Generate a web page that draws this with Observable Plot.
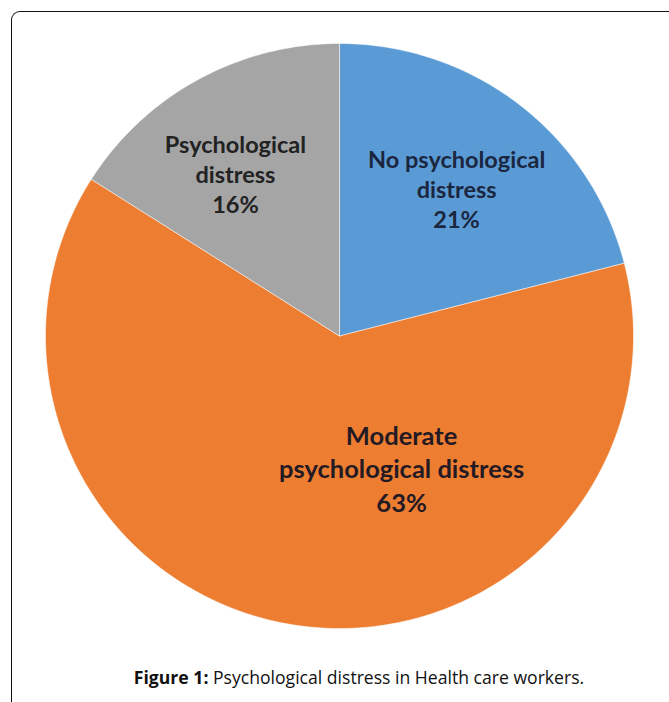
<!DOCTYPE html>
<html>
<head>
<meta charset="utf-8">
<script src="https://cdn.jsdelivr.net/npm/d3@7"></script>
<script src="https://cdn.jsdelivr.net/npm/@observablehq/plot@0.6"></script>
<style>
  html, body { margin: 0; padding: 0; background: #fff; }
  #wrap { position: relative; width: 669px; height: 702px; overflow: hidden; }
  #frame { position: absolute; left: 11px; top: 11px; width: 680px; height: 720px;
           border-top: 1.4px solid #111; border-left: 1.4px solid #111; border-top-left-radius: 9px; }
  #caption { position: absolute; left: 0; width: 718px; top: 665px; text-align: center;
             font-family: "Open Sans", sans-serif; font-size: 17.6px; color: #111; white-space: nowrap; }
  #chart { position: absolute; left: 0; top: 0; }
</style>
</head>
<body>
<div id="wrap">
  <div id="frame"></div>
  <div id="chart"></div>
  <div id="caption"><b>Figure 1:</b> Psychological distress in Health care workers.</div>
</div>
<script>
// Data (clockwise from 12 o'clock)
const categories = ["No psychological distress", "Moderate psychological distress", "Psychological distress"];
const labelTexts = ["No psychological\ndistress\n21%", "Moderate\npsychological distress\n63%", "Psychological\ndistress\n16%"];
const shares = [21, 63, 16];
const colors = ["#5B9BD5", "#ED7D31", "#A5A5A5"];

const total = d3.sum(shares);
const starts = d3.cumsum([0, ...shares]).slice(0, shares.length);

// slice outlines in unit-circle data space (angle clockwise from top)
const slicePts = [];
categories.forEach((c, i) => {
  const a0 = starts[i] / total * 2 * Math.PI;
  const a1 = (starts[i] + shares[i]) / total * 2 * Math.PI;
  const n = Math.max(2, Math.ceil((a1 - a0) / (Math.PI / 180)));
  slicePts.push({cat: c, x: 0, y: 0});
  for (let k = 0; k <= n; k++) {
    const a = a0 + (a1 - a0) * k / n;
    slicePts.push({cat: c, x: Math.sin(a), y: Math.cos(a)});
  }
  slicePts.push({cat: c, x: 0, y: 0});
});

const labels = categories.map((c, i) => {
  const am = (starts[i] + shares[i] / 2) / total * 2 * Math.PI;
  return {cat: c, text: labelTexts[i], x: 0.65 * Math.sin(am), y: 0.65 * Math.cos(am)};
});

const textOpts = {
  x: "x", y: "y", text: "text",
  fontFamily: "Lato, sans-serif", fontWeight: "bold", fontSize: 23.5,
  lineHeight: 1.27, lineAnchor: "middle", textAnchor: "middle"
};

const chart = Plot.plot({
  width: 669, height: 702,
  marginLeft: 45, marginRight: 36, marginTop: 43, marginBottom: 74,
  x: {domain: [-1, 1], axis: null},
  y: {domain: [-1, 1], axis: null},
  color: {domain: categories, range: colors},
  marks: [
    Plot.line(slicePts, {x: "x", y: "y", z: "cat", fill: "cat", stroke: "#fff", strokeWidth: 1, strokeOpacity: 0.5}),
    Plot.text(labels.filter(d => d.cat === categories[0]), {...textOpts, fill: "#1b2740", dy: 3}),
    Plot.text(labels.filter(d => d.cat === categories[2]), {...textOpts, fill: "#222", dx: -12, dy: 4}),
    Plot.text(labels.filter(d => d.cat === categories[1]), {...textOpts, fill: "#241a24", fontSize: 25.5, lineHeight: 1.3, dx: 92, dy: -56})
  ]
});
document.getElementById("chart").appendChild(chart);
</script>
</body>
</html>
